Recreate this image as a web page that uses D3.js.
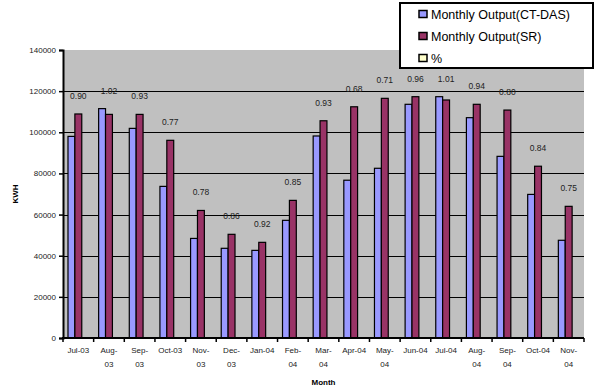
<!DOCTYPE html>
<html>
<head>
<meta charset="utf-8">
<script src="https://cdn.jsdelivr.net/npm/d3@7"></script>
<style>
  html, body { margin: 0; padding: 0; background: #fff; }
  svg { display: block; font-family: "Liberation Sans", Arial, sans-serif; }
</style>
</head>
<body>
<svg id="chart" width="595" height="387"></svg>
<script>
// Monthly energy output, Jul 2003 – Nov 2004
const months = ["Jul-03","Aug-03","Sep-03","Oct-03","Nov-03","Dec-03","Jan-04","Feb-04","Mar-04",
                "Apr-04","May-04","Jun-04","Jul-04","Aug-04","Sep-04","Oct-04","Nov-04"];
const outputCTDAS = [98000,111500,101900,73700,48400,43600,42600,57200,98200,
                     76700,82500,113600,117300,107100,88300,69800,47500];
const outputSR    = [108900,108700,108700,96100,62000,50400,46500,66900,105600,
                     112400,116500,117300,115700,113600,110800,83500,64000];
const ratioLabels = ["0.90","1.02","0.93","0.77","0.78","0.86","0.92","0.85","0.93",
                     "0.68","0.71","0.96","1.01","0.94","0.80","0.84","0.75"];
const yTicks = [0,20000,40000,60000,80000,100000,120000,140000];
const seriesNames = ["Monthly Output(CT-DAS)","Monthly Output(SR)","%"];
const seriesColors = ["#9999FF","#993366","#FFFFCC"];

const svg = d3.select("#chart");
const m = { left: 63, right: 584, top: 50, bottom: 338 };

const x = d3.scaleBand().domain(months).range([m.left, m.right]).paddingInner(0).paddingOuter(0);
const y = d3.scaleLinear().domain([0, 140000]).range([m.bottom, m.top]);
// three slots per month (CT-DAS, SR, %), with a gap around them
const inner = d3.scaleBand().domain([0,1,2]).range([0, x.bandwidth()]).paddingOuter(0.5 * 10 / 6.9).paddingInner(0);

// plot background
svg.append("rect").attr("x", m.left).attr("y", m.top)
  .attr("width", m.right - m.left).attr("height", m.bottom - m.top).attr("fill", "#C0C0C0");

// gridlines
svg.append("g").selectAll("line").data(yTicks.filter(d => d > 0 && d < 140000)).join("line")
  .attr("x1", m.left).attr("x2", m.right)
  .attr("y1", d => Math.round(y(d)) + 0.5).attr("y2", d => Math.round(y(d)) + 0.5)
  .attr("stroke", "#000").attr("stroke-width", 1);

// bars
const groups = svg.append("g").selectAll("g").data(months).join("g")
  .attr("transform", d => `translate(${x(d)},0)`);
const seriesVals = [outputCTDAS, outputSR];
seriesVals.forEach((vals, si) => {
  groups.append("rect")
    .attr("x", (d, i) => inner(si))
    .attr("y", (d, i) => y(vals[i]))
    .attr("width", inner.bandwidth())
    .attr("height", (d, i) => y(0) - y(vals[i]))
    .attr("fill", seriesColors[si])
    .attr("stroke", "#000").attr("stroke-width", 1.2);
});

// ratio labels above each month's bars
svg.append("g").selectAll("text").data(months).join("text")
  .attr("x", d => x(d) + x.bandwidth() / 2)
  .attr("y", (d, i) => y(Math.max(outputCTDAS[i], outputSR[i])) - 15)
  .attr("text-anchor", "middle")
  .attr("font-size", 8.5).attr("fill", "#222")
  .text((d, i) => ratioLabels[i]);

// y axis
const yAxis = svg.append("g").attr("transform", `translate(${m.left},0)`)
  .call(d3.axisLeft(y).tickValues(yTicks).tickFormat(d3.format("d")).tickSize(4).tickPadding(3));
yAxis.select(".domain").attr("stroke", "#000").attr("stroke-width", 2);
yAxis.selectAll(".tick line").attr("stroke", "#000").attr("stroke-width", 1.5);
yAxis.selectAll("text").attr("font-size", 8).attr("fill", "#222")
  .attr("font-family", "Liberation Sans, Arial, sans-serif");

// x axis with ticks at month boundaries
const xAxis = svg.append("g").attr("transform", `translate(0,${m.bottom})`);
xAxis.append("line").attr("x1", m.left - 1).attr("x2", m.right)
  .attr("y1", 0).attr("y2", 0).attr("stroke", "#000").attr("stroke-width", 2);
xAxis.selectAll("line.tk").data(d3.range(months.length + 1)).join("line").attr("class", "tk")
  .attr("x1", i => m.left + i * x.bandwidth()).attr("x2", i => m.left + i * x.bandwidth())
  .attr("y1", 0).attr("y2", 4).attr("stroke", "#000").attr("stroke-width", 1.5);
const fs = 8;
const labs = xAxis.selectAll("text").data(months).join("text")
  .attr("text-anchor", "middle").attr("font-size", fs).attr("fill", "#222")
  .attr("x", d => x(d) + x.bandwidth() / 2).attr("y", 15);
labs.each(function(d) {
  const t = d3.select(this).text(d);
  if (this.getComputedTextLength() > 3.1 * fs) {
    const k = d.indexOf("-") + 1;
    t.text(null);
    t.append("tspan").attr("x", x(d) + x.bandwidth() / 2).attr("dy", 0).text(d.slice(0, k));
    t.append("tspan").attr("x", x(d) + x.bandwidth() / 2).attr("dy", 14).text(d.slice(k));
  }
});

// axis titles
svg.append("text").attr("x", (m.left + m.right) / 2).attr("y", 385)
  .attr("text-anchor", "middle").attr("font-size", 8).attr("font-weight", "bold").text("Month");
svg.append("text").attr("transform", `translate(18,${(m.top + m.bottom) / 2}) rotate(-90)`)
  .attr("text-anchor", "middle").attr("font-size", 8).attr("font-weight", "bold").text("KWH");

// legend
const lg = svg.append("g");
lg.append("rect").attr("x", 400).attr("y", 3).attr("width", 193).attr("height", 65)
  .attr("fill", "#fff").attr("stroke", "#000").attr("stroke-width", 2);
seriesNames.forEach((name, i) => {
  const cy = 14 + i * 22;
  lg.append("rect").attr("x", 419).attr("y", cy - 3.5).attr("width", 8).attr("height", 7)
    .attr("fill", seriesColors[i]).attr("stroke", "#000").attr("stroke-width", 1.5);
  lg.append("text").attr("x", 431).attr("y", cy + 4.5).attr("font-size", 12.5).attr("fill", "#000").text(name);
});
</script>
</body>
</html>
